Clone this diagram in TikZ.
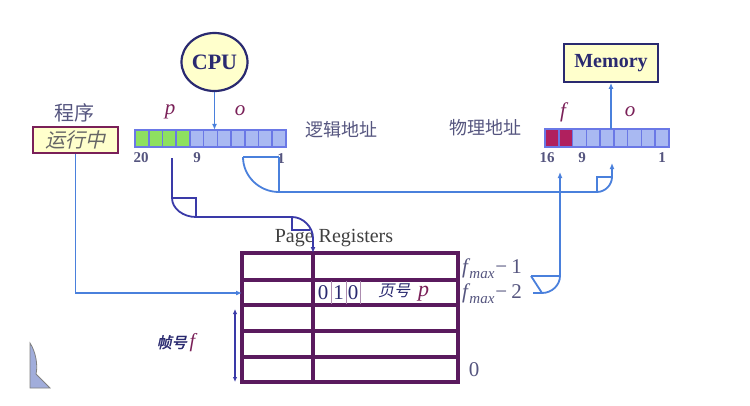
\documentclass[tikz,border=0pt]{standalone}
\usepackage{fontspec}
\setmainfont{Liberation Serif}
\newfontfamily\cjk{Noto Sans CJK SC}
\newfontfamily\cjkit[FakeSlant=0.22]{Noto Sans CJK SC}
\newfontfamily\cjkbit[FakeSlant=0.22,FakeBold=2]{Noto Sans CJK SC}
\usetikzlibrary{arrows.meta,shapes.geometric}
\definecolor{lblue}{HTML}{4A80DC}
\definecolor{dblue}{HTML}{3A3AA8}
\definecolor{tpurp}{HTML}{5A1A5E}
\definecolor{gtext}{HTML}{55557F}
\definecolor{mar}{HTML}{7A2058}
\definecolor{cellblue}{HTML}{A9B9F2}
\definecolor{cellbd}{HTML}{6A78E6}
\definecolor{cellgreen}{HTML}{8EE060}
\definecolor{cellred}{HTML}{B0205E}
\definecolor{pyellow}{HTML}{FFFFCC}
\definecolor{navy}{HTML}{2A2A70}
\newcommand{\fsz}[1]{\fontsize{#1}{#1}\selectfont}
\tikzset{
  conn/.style={draw=lblue, line width=1.8pt},
  dconn/.style={draw=dblue, line width=1.8pt},
  arr/.style={-{Latex[length=6pt,width=5pt]}},
  lbl/.style={text=gtext, inner sep=0pt},
  var/.style={text=mar, inner sep=0pt, font=\fsz{21}\itshape},
  tline/.style={draw=tpurp, line width=3.5pt},
  numlbl/.style={text=gtext, inner sep=0pt, font=\fsz{15}\bfseries},
}
\begin{document}
\begin{tikzpicture}[x=1pt,y=-1pt]
\useasboundingbox (0,0) rectangle (750,405);
\fill[white] (0,0) rectangle (750,405);

% decorative shape bottom-left
\filldraw[fill=cellblue!80!gray, draw=gray, line width=0.8pt]
  (30,343) .. controls (36,352) and (38,366) .. (36,374) -- (50,388) -- (30,388) -- cycle;

% CPU
\node (cpu) [ellipse, draw=navy, line width=2.2pt, fill=pyellow, minimum width=66pt, minimum height=58pt, inner sep=0pt, text=navy, font=\fsz{22}\bfseries] at (214.5,62) {CPU};

% Memory
\node (mem) [rectangle, draw=navy, line width=1.8pt, fill=pyellow, minimum width=94pt, minimum height=38pt, inner sep=0pt, text=navy, font=\fsz{20}\bfseries] at (611,63) {Memory};

% logical address register
\node (lreg) [rectangle, minimum width=151pt, minimum height=17pt, inner sep=0pt] at (210.5,138.5) {};
\foreach \i in {0,...,10} {
  \ifnum\i<4 \def\cc{cellgreen}\else\def\cc{cellblue}\fi
  \filldraw[fill=\cc, draw=cellbd, line width=1.6pt] ({135+\i*13.727},130) rectangle ++(13.727,17);
}
% physical address register
\node (preg) [rectangle, minimum width=124pt, minimum height=18pt, inner sep=0pt] at (607,138) {};
\foreach \i in {0,...,8} {
  \ifnum\i<2 \def\cc{cellred}\else\def\cc{cellblue}\fi
  \filldraw[fill=\cc, draw=cellbd, line width=1.6pt] ({545+\i*13.78},129) rectangle ++(13.78,18);
}

% labels
\node[lbl, font=\cjk\fsz{20}] (prog) at (74,113) {程序};
\node (run) [rectangle, draw=mar, line width=2.2pt, fill=pyellow, minimum width=85pt, minimum height=26pt, inner sep=0pt, text=gray!80!black, font=\cjkit\fsz{20}] at (75.5,140) {运行中};
\node[var] (pl) at (170,112) {p};
\node[var] (ol) at (240,111) {o};
\node[lbl, font=\cjk\fsz{18}] (la) at (341,130) {逻辑地址};
\node[numlbl] (n20) at (141,158) {20};
\node[numlbl] (n9a) at (197,158) {9};
\node[numlbl] (n1a) at (281,159) {1};
\node[lbl, font=\cjk\fsz{18}] (pa) at (485,128) {物理地址};
\node[var] (fl) at (563,112) {f};
\node[var] (ol2) at (630,112) {o};
\node[numlbl] (n16) at (547,158) {16};
\node[numlbl] (n9b) at (582,158) {9};
\node[numlbl] (n1b) at (662,158) {1};

% Page registers table
\node (tab) [rectangle, minimum width=216pt, minimum height=129pt, inner sep=0pt] at (350,317.5) {};
\node[inner sep=0pt, text=black!75, font=\fsz{20}] (ptitle) at (334,238) {Page Registers};
\draw[tline] (242,253) rectangle (458,382);
\foreach \yy in {280,305,331,357} \draw[tline] (242,\yy) -- (458,\yy);
\draw[tline] (313,253) -- (313,382);
% 0 1 0 cells
\draw[draw=tpurp!50, line width=0.9pt] (331,281) -- (331,304) (346,281) -- (346,304) (360,281) -- (360,304);
\node[inner sep=0pt, text=navy, font=\fsz{21}] (b1) at (323,293) {0};
\node[inner sep=0pt, text=navy, font=\fsz{21}] (b2) at (338.5,293) {1};
\node[inner sep=0pt, text=navy, font=\fsz{21}] (b3) at (353,293) {0};
\node[inner sep=0pt, anchor=west] (pn) at (378,292) {{\cjkit\fsz{16}\color{navy}页号}\hspace{8pt}{\fsz{22}\itshape\color{mar}p}};
% right labels
\node[lbl, anchor=west, font=\fsz{21}] (fm1) at (462,269) {\textit{f}\kern-1pt\raisebox{-5pt}{\fsz{15}\textit{max}}\kern1pt−\kern4pt1};
\node[lbl, anchor=west, font=\fsz{21}] (fm2) at (462,294) {\textit{f}\kern-1pt\raisebox{-5pt}{\fsz{15}\textit{max}}\kern1pt−\kern4pt2};
\node[lbl, font=\fsz{21}] (zero) at (474,370) {0};
% frame label
\node[inner sep=0pt] (fh) at (176,343) {{\cjkbit\fsz{15}\color{navy}帧号}\hspace{3pt}{\fsz{20}\itshape\color{mar}f}};

% coordinates
\coordinate (coltop) at (313,253);
\coordinate (row2w) at (242,293);
\coordinate (ostart) at (279,157);
\coordinate (oend) at (612,163);
\coordinate (pstart) at (172,158);
\coordinate (cstart) at (533,293);
\coordinate (fend) at (560,172);
\coordinate (ftop) at (235,309);
\coordinate (fbot) at (235,382);

% CPU -> logical register
\draw[conn, arr] (cpu.south) -- (cpu.south |- lreg.north);
% physical register -> memory
\draw[conn, arr] (mem.south |- preg.north) -- (mem.south);
% program -> table
\draw[conn, arr] (run.south) |- (row2w);

% p -> page registers (dark)
\draw[dconn, arr] (pstart) -- (172,198) .. controls (172,208.5) and (183,217) .. (196,217)
   -- (292,217) .. controls (303,217) and (313,227) .. (313,238) -- (coltop);
\draw[dconn] (172,198) -- (196,198) -- (196,217);
\draw[dconn] (292,217) -- (292,230) -- (310,230);

% o -> physical o
\draw[conn, arr] (ostart) -- (279,192) -- (597,192) .. controls (605,192) and (612,185) .. (612,177) -- (oend);
\draw[conn] (243,157) -- (ostart);
\draw[conn] (243,157) .. controls (243,176) and (259,192) .. (279,192);
\draw[conn] (597,192) -- (597,177) -- (612,177);

% frame -> physical f
\draw[conn, arr] (cstart) -- (542,293) .. controls (552,293) and (560,285) .. (560,276) -- (fend);
\draw[conn] (531,276) -- (560,276);
\draw[conn] (531,276) -- (542,293);

% frame number double arrow
\draw[draw=dblue, line width=1.2pt, {Latex[length=5pt,width=4.5pt]}-{Latex[length=5pt,width=4.5pt]}] (ftop) -- (fbot);
\end{tikzpicture}
\end{document}
